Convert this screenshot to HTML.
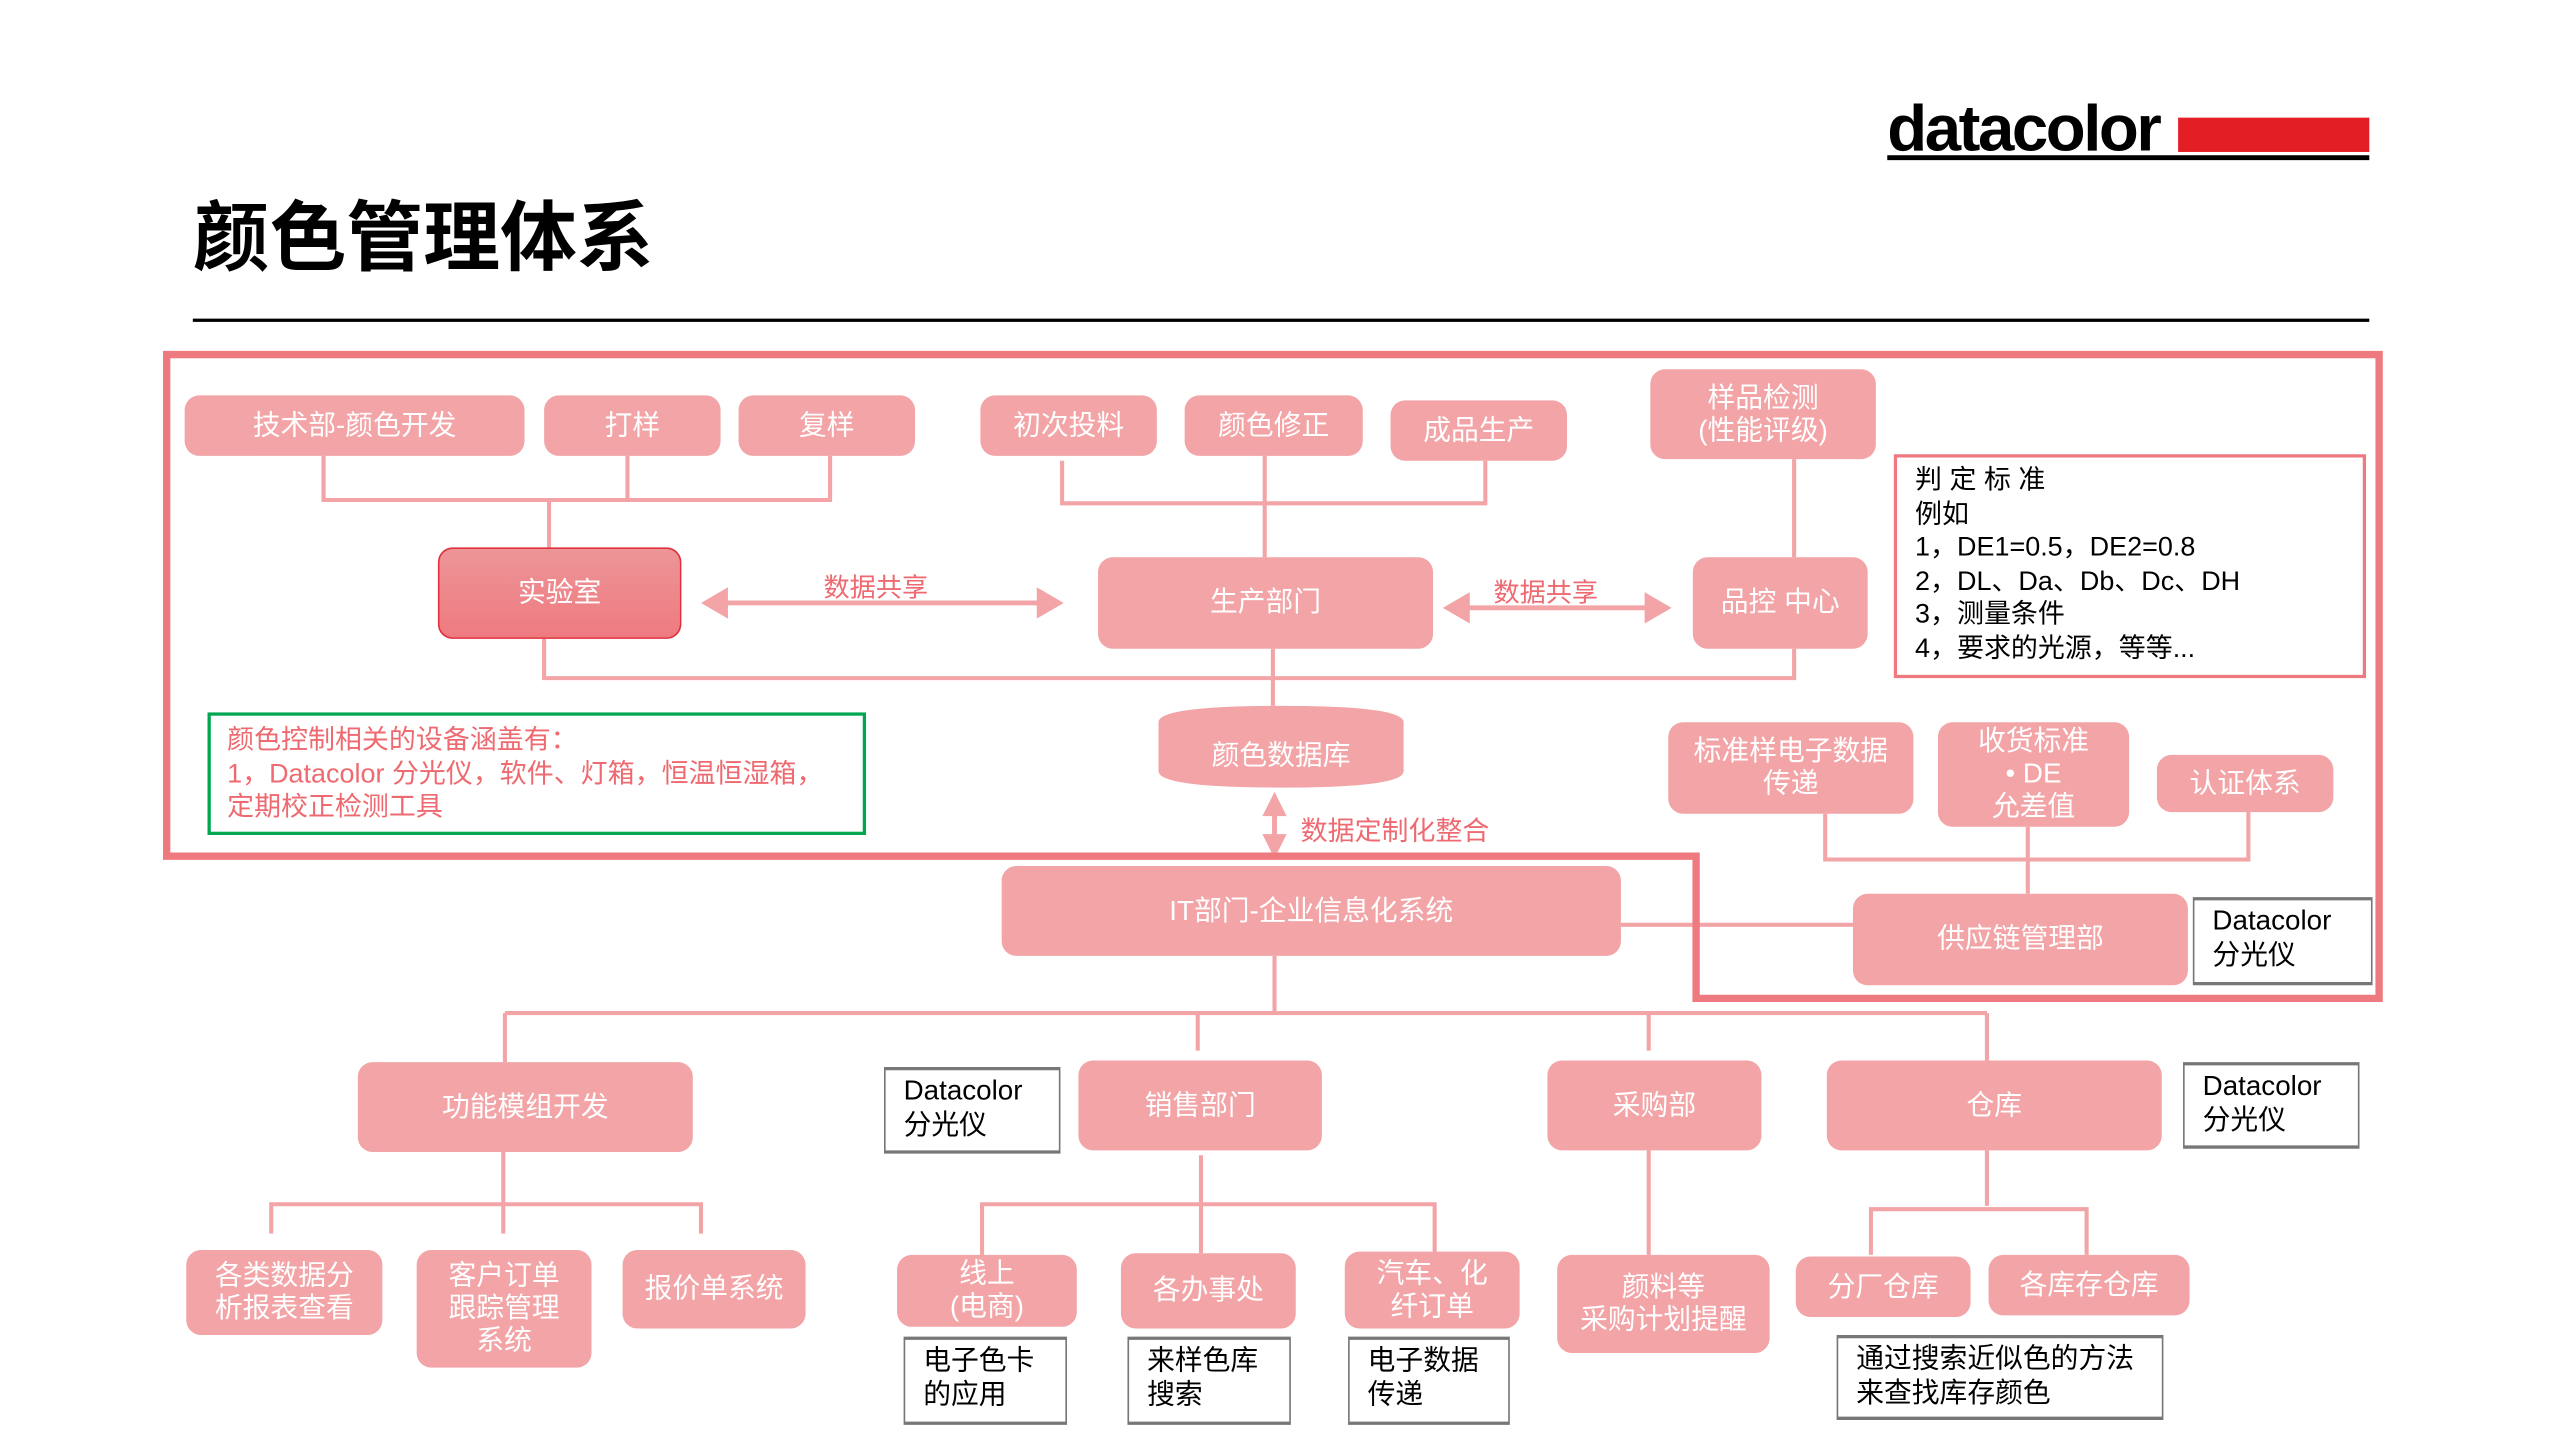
<!DOCTYPE html>
<html><head><meta charset="utf-8"><style>
*{margin:0;padding:0;box-sizing:border-box}
html,body{width:2560px;height:1440px;overflow:hidden;background:#fff}
#c{position:absolute;left:0;top:0;width:1570px;height:882px;transform:scale(1.634);transform-origin:0 0;font-family:"Liberation Sans","Noto Sans CJK SC",sans-serif}
.b{position:absolute;background:#f2a4a7;color:#fff;border-radius:9px;display:flex;align-items:center;justify-content:center;text-align:center;font-size:17px;line-height:20px}
.w{position:absolute;background:#fff;border:1.5px solid #777;border-top-width:2px;border-bottom-width:2px;color:#000;font-size:17px;line-height:21px;padding:2px 0 0 11px}
svg{position:absolute;left:0;top:0}
</style></head><body><div id="c">
<svg width="1570" height="882">
<g stroke="#f2a4a7" stroke-width="2.5" fill="none">
<path d="M198 279V306H508V279M384 279V306M336 306V335"/>
<path d="M650 282V308H909V282M774 279V341"/>
<path d="M1098 281V341"/>
<path d="M333 391V415H1098V397M779 397V432"/>
<path d="M1117 498V526H1376V497M1241 506V547"/>
<path d="M992 566H1134"/>
<path d="M780 585V620M309 620H1216M309 620V650M733 620V643M1009 620V643M1216 620V650"/>
<path d="M308 705V755M166 755V737H429V755"/>
<path d="M735 707V767M601 768V737H878V767"/>
<path d="M1009 704V768"/>
<path d="M1216 704V738M1145 768V740H1277V768"/>
</g>
<g stroke="#f2a4a7" stroke-width="3" fill="#f2a4a7">
<path d="M440 369H640"/><path d="M432 369l12-7v14z M648 369l-12-7v14z"/>
<path d="M894 372H1012"/><path d="M886 372l12-7v14z M1020 372l-12-7v14z"/>
<path d="M780 496V514"/><path d="M780 488l-5 10h10z M780 522l-5-10h10z"/>
</g>
<path d="M102 217H1456V611H1038V524H102Z" fill="none" stroke="#ee7a80" stroke-width="4.5"/>
<path d="M709 442Q709 432 784 432Q859 432 859 442V472Q859 482 784 482Q709 482 709 472Z" fill="#f2a4a7"/>
<text x="784" y="468" fill="#fff" font-size="17" text-anchor="middle" font-family="Liberation Sans,Noto Sans CJK SC,sans-serif">颜色数据库</text>
</svg>
<div style="position:absolute;left:1155px;top:58px;font-size:40px;font-weight:bold;letter-spacing:-1.5px;line-height:42px">datacolor</div>
<div style="position:absolute;left:1333px;top:72px;width:117px;height:21px;background:#e31e24"></div>
<div style="position:absolute;left:1155px;top:95px;width:295px;height:3px;background:#000"></div>
<div style="position:absolute;left:118px;top:118px;font-size:47px;font-weight:bold;line-height:56px">颜色管理体系</div>
<div style="position:absolute;left:118px;top:195px;width:1332px;height:2px;background:#000"></div>

<div class="b" style="left:113px;top:242px;width:208px;height:37px">技术部-颜色开发</div>
<div class="b" style="left:333px;top:242px;width:108px;height:37px">打样</div>
<div class="b" style="left:452px;top:242px;width:108px;height:37px">复样</div>
<div class="b" style="left:600px;top:242px;width:108px;height:37px">初次投料</div>
<div class="b" style="left:725px;top:242px;width:109px;height:37px">颜色修正</div>
<div class="b" style="left:851px;top:245px;width:108px;height:37px">成品生产</div>
<div class="b" style="left:1010px;top:226px;width:138px;height:55px">样品检测<br>(性能评级)</div>
<div class="b" style="left:268px;top:335px;width:149px;height:56px;background:linear-gradient(#ed9598,#ee7a80);border:1.5px solid #e0303c">实验室</div>
<div class="b" style="left:672px;top:341px;width:205px;height:56px">生产部门</div>
<div class="b" style="left:1036px;top:341px;width:107px;height:56px">品控 中心</div>
<div style="position:absolute;left:504px;top:346px;color:#ee6a70;font-size:16px">数据共享</div>
<div style="position:absolute;left:914px;top:349px;color:#ee6a70;font-size:16px">数据共享</div>
<div style="position:absolute;left:1159px;top:278px;width:289px;height:137px;border:2px solid #ee7a80;padding:4px 0 0 11px;font-size:16.5px;line-height:20.6px">判 定 标 准<br>例如<br>1，DE1=0.5，DE2=0.8<br>2，DL、Da、Db、Dc、DH<br>3，测量条件<br>4，要求的光源，等等...</div>
<div style="position:absolute;left:127px;top:436px;width:403px;height:75px;border:2.5px solid #00a650;padding:5px 0 0 10px;font-size:16.5px;line-height:20.5px;color:#ee6a70">颜色控制相关的设备涵盖有：<br>1，Datacolor 分光仪，软件、灯箱，恒温恒湿箱，<br>定期校正检测工具</div>
<div style="position:absolute;left:796px;top:495px;color:#ee6a70;font-size:16.5px">数据定制化整合</div>
<div class="b" style="left:1021px;top:442px;width:150px;height:56px">标准样电子数据<br>传递</div>
<div class="b" style="left:1186px;top:442px;width:117px;height:64px">收货标准<br>• DE<br>允差值</div>
<div class="b" style="left:1320px;top:462px;width:108px;height:35px">认证体系</div>
<div class="b" style="left:613px;top:530px;width:379px;height:55px">IT部门-企业信息化系统</div>
<div class="b" style="left:1134px;top:547px;width:205px;height:56px">供应链管理部</div>
<div class="w" style="left:1342px;top:549px;width:110px;height:54px">Datacolor<br>分光仪</div>
<div class="b" style="left:219px;top:650px;width:205px;height:55px">功能模组开发</div>
<div class="b" style="left:660px;top:649px;width:149px;height:55px">销售部门</div>
<div class="b" style="left:947px;top:649px;width:131px;height:55px">采购部</div>
<div class="b" style="left:1118px;top:649px;width:205px;height:55px">仓库</div>
<div class="w" style="left:541px;top:653px;width:108px;height:53px">Datacolor<br>分光仪</div>
<div class="w" style="left:1336px;top:650px;width:108px;height:53px">Datacolor<br>分光仪</div>
<div class="b" style="left:114px;top:765px;width:120px;height:52px">各类数据分<br>析报表查看</div>
<div class="b" style="left:255px;top:765px;width:107px;height:72px">客户订单<br>跟踪管理<br>系统</div>
<div class="b" style="left:381px;top:765px;width:112px;height:48px">报价单系统</div>
<div class="b" style="left:549px;top:768px;width:110px;height:44px">线上<br>(电商)</div>
<div class="b" style="left:686px;top:767px;width:107px;height:46px">各办事处</div>
<div class="b" style="left:823px;top:766px;width:107px;height:47px">汽车、化<br>纤订单</div>
<div class="w" style="left:553px;top:818px;width:100px;height:54px">电子色卡<br>的应用</div>
<div class="w" style="left:690px;top:818px;width:100px;height:54px">来样色库<br>搜索</div>
<div class="w" style="left:825px;top:818px;width:99px;height:54px">电子数据<br>传递</div>
<div class="b" style="left:953px;top:768px;width:130px;height:60px">颜料等<br>采购计划提醒</div>
<div class="b" style="left:1099px;top:769px;width:107px;height:37px">分厂仓库</div>
<div class="b" style="left:1217px;top:768px;width:123px;height:37px">各库存仓库</div>
<div class="w" style="left:1124px;top:817px;width:200px;height:52px">通过搜索近似色的方法<br>来查找库存颜色</div>
</div></body></html>
